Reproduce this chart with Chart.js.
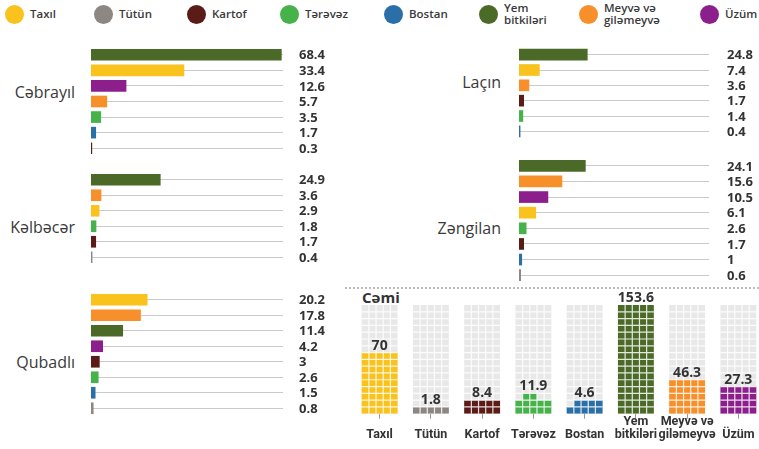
<!DOCTYPE html>
<html><head><meta charset="utf-8">
<script src="https://cdn.jsdelivr.net/npm/chart.js@4.4.1/dist/chart.umd.min.js"></script>
<style>
html,body{margin:0;padding:0;background:#fff;width:759px;height:449px;overflow:hidden;position:relative;font-family:'Open Sans',sans-serif;color:#333}
canvas{position:absolute}
.leg{position:absolute;top:4px;display:flex;align-items:center;height:20px;font-size:11.5px;font-weight:600;line-height:12px;color:#3a3a3a;white-space:nowrap}
.leg i{display:inline-block;width:19px;height:19px;border-radius:50%;margin-right:6px;flex:none}
.region{position:absolute;font-size:16px;text-align:right;width:120px;line-height:20px;color:#3a3a3a}
.sep{position:absolute;left:345px;top:287px;width:414px;border-top:2px dotted #bdbdbd}
.cemi{position:absolute;left:362px;top:287px;font-size:15px;font-weight:700;color:#333;line-height:20px}
</style></head><body>
<div class="sep"></div>
<div class="cemi">Cəmi</div>
<script>
// ---- data ----
const categories = ['Taxıl', 'Tütün', 'Kartof', 'Tərəvəz', 'Bostan', 'Yem bitkiləri', 'Meyvə və giləmeyvə', 'Üzüm'];
const tickLabels = ['Taxıl', 'Tütün', 'Kartof', 'Tərəvəz', 'Bostan', ['Yem', 'bitkiləri'], ['Meyvə və', 'giləmeyvə'], 'Üzüm'];
const totals = [70, 1.8, 8.4, 11.9, 4.6, 153.6, 46.3, 27.3];
const waffleCells = [45, 5, 10, 12, 9, 80, 25, 20]; // filled waffle cells counted in the picture

const cebrayilCats = ['Yem bitkiləri', 'Taxıl', 'Üzüm', 'Meyvə və giləmeyvə', 'Tərəvəz', 'Bostan', 'Kartof'];
const cebrayilVals = [68.4, 33.4, 12.6, 5.7, 3.5, 1.7, 0.3];
const kelbecerCats = ['Yem bitkiləri', 'Meyvə və giləmeyvə', 'Taxıl', 'Tərəvəz', 'Kartof', 'Tütün'];
const kelbecerVals = [24.9, 3.6, 2.9, 1.8, 1.7, 0.4];
const qubadliCats = ['Taxıl', 'Meyvə və giləmeyvə', 'Yem bitkiləri', 'Üzüm', 'Kartof', 'Tərəvəz', 'Bostan', 'Tütün'];
const qubadliVals = [20.2, 17.8, 11.4, 4.2, 3, 2.6, 1.5, 0.8];
const lacinCats = ['Yem bitkiləri', 'Taxıl', 'Meyvə və giləmeyvə', 'Kartof', 'Tərəvəz', 'Bostan'];
const lacinVals = [24.8, 7.4, 3.6, 1.7, 1.4, 0.4];
const zengilanCats = ['Yem bitkiləri', 'Meyvə və giləmeyvə', 'Üzüm', 'Taxıl', 'Tərəvəz', 'Kartof', 'Bostan', 'Tütün'];
const zengilanVals = [24.1, 15.6, 10.5, 6.1, 2.6, 1.7, 1, 0.6];

// ---- styles / layout ----
const categoryColors = ['#F9C21D', '#8C8782', '#5B1C17', '#45B34A', '#2B6FA8', '#4B6A28', '#F7902A', '#8D1F8C'];
const colorOf = c => categoryColors[categories.indexOf(c)];
const FONT = '"Open Sans", sans-serif';
const xMax = 69;
const waffleRows = 16, waffleCols = 5;

// legend (HTML)
const legendLeft = [5, 94, 187, 280, 384, 479, 579, 700];
categories.forEach((c, i) => {
  const d = document.createElement('div');
  d.className = 'leg';
  d.style.left = legendLeft[i] + 'px';
  const lbl = Array.isArray(tickLabels[i]) ? tickLabels[i].join('<br>') : tickLabels[i];
  d.innerHTML = '<i style="background:' + categoryColors[i] + '"></i><span>' + lbl + '</span>';
  document.body.appendChild(d);
});

function addRegionLabel(text, right, cy) {
  const d = document.createElement('div');
  d.className = 'region';
  d.textContent = text;
  d.style.left = (right - 120) + 'px';
  d.style.top = (cy - 10) + 'px';
  document.body.appendChild(d);
}

const valueLabelPlugin = {
  id: 'valueLabels',
  afterDatasetsDraw(chart, args, opts) {
    const {ctx, chartArea} = chart;
    const meta = chart.getDatasetMeta(0);
    const data = chart.data.datasets[0].data;
    ctx.save();
    ctx.font = 'bold 13px ' + FONT;
    ctx.fillStyle = '#333';
    ctx.textBaseline = 'middle';
    ctx.textAlign = 'left';
    meta.data.forEach((bar, i) => {
      ctx.fillText(String(data[i]), chartArea.right + opts.gap, bar.y + 1);
    });
    ctx.restore();
  }
};

function makeCanvas(left, top, w, h) {
  const cv = document.createElement('canvas');
  cv.width = w; cv.height = h;
  cv.style.left = left + 'px'; cv.style.top = top + 'px';
  cv.style.width = w + 'px'; cv.style.height = h + 'px';
  document.body.appendChild(cv);
  return cv;
}

function makePanel(cats, vals, left, top, w, h, gap) {
  const cv = makeCanvas(left, top, w, h);
  new Chart(cv, {
    type: 'bar',
    data: {labels: cats, datasets: [{data: vals, backgroundColor: cats.map(colorOf), barThickness: 11, borderWidth: 0}]},
    options: {
      indexAxis: 'y', responsive: false, animation: false, devicePixelRatio: 1,
      layout: {padding: {left: 0, right: 50, top: 0, bottom: 0}},
      plugins: {legend: {display: false}, tooltip: {enabled: false}, valueLabels: {gap: gap}},
      scales: {
        x: {display: false, min: 0, max: xMax},
        y: {display: true, ticks: {display: false}, border: {display: false},
            grid: {offset: false, color: '#cacaca', lineWidth: 1, drawTicks: false}}
      }
    },
    plugins: [valueLabelPlugin]
  });
}

makePanel(cebrayilCats, cebrayilVals, 91, 47, 242, 109, 16);
makePanel(kelbecerCats, kelbecerVals, 91, 172, 242, 93, 16);
makePanel(qubadliCats, qubadliVals, 91, 292, 242, 124, 16);
makePanel(lacinCats, lacinVals, 519, 47, 240, 92, 18);
makePanel(zengilanCats, zengilanVals, 519, 158, 240, 125, 18);

addRegionLabel('Cəbrayıl', 75, 92);
addRegionLabel('Kəlbəcər', 75, 227);
addRegionLabel('Qubadlı', 75, 362);
addRegionLabel('Laçın', 501, 82);
addRegionLabel('Zəngilan', 501, 228);

// ---- waffle (Cəmi) ----
const fullRows = waffleCells.map(c => Math.floor(c / waffleCols));
const gridRows = categories.map(() => waffleRows);

const wafflePlugin = {
  id: 'waffle',
  afterDatasetsDraw(chart) {
    const {ctx} = chart;
    const y = chart.scales.y;
    const meta = chart.getDatasetMeta(0);
    ctx.save();
    meta.data.forEach((bar, i) => {
      const left = bar.x - bar.width / 2;
      const cw = bar.width / waffleCols;
      const full = fullRows[i];
      const rem = waffleCells[i] - full * waffleCols;
      ctx.fillStyle = categoryColors[i];
      for (let c = 0; c < rem; c++) {
        const col = Math.min(c + 1, waffleCols - 1);
        const top = y.getPixelForValue(full + 1), bot = y.getPixelForValue(full);
        ctx.fillRect(left + col * cw, top, cw, bot - top);
      }
      // gaps
      ctx.strokeStyle = 'rgba(255,255,255,0.85)';
      ctx.lineWidth = 1.2;
      const yt = y.getPixelForValue(waffleRows), yb = y.getPixelForValue(0);
      ctx.beginPath();
      for (let c = 1; c < waffleCols; c++) {
        ctx.moveTo(left + c * cw, yt); ctx.lineTo(left + c * cw, yb);
      }
      for (let r = 1; r < waffleRows; r++) {
        const py = y.getPixelForValue(r);
        ctx.moveTo(left, py); ctx.lineTo(left + bar.width, py);
      }
      ctx.stroke();
      // value label
      const filled = full + (rem > 0 ? 1 : 0);
      ctx.fillStyle = '#333';
      ctx.font = 'bold 14px ' + FONT;
      ctx.textAlign = 'center';
      ctx.textBaseline = 'alphabetic';
      ctx.fillText(String(totals[i]), bar.x, y.getPixelForValue(filled) - 3);
    });
    ctx.restore();
  }
};

const wcv = makeCanvas(354, 285, 410, 166);
new Chart(wcv, {
  type: 'bar',
  data: {
    labels: tickLabels,
    datasets: [
      {data: fullRows, backgroundColor: categoryColors, barPercentage: 0.7, categoryPercentage: 1, grouped: false, borderWidth: 0},
      {data: gridRows, backgroundColor: '#e8e8e8', barPercentage: 0.7, categoryPercentage: 1, grouped: false, borderWidth: 0}
    ]
  },
  options: {
    responsive: false, animation: false, devicePixelRatio: 1,
    layout: {padding: {top: 20, left: 0, right: 0, bottom: 0}},
    plugins: {legend: {display: false}, tooltip: {enabled: false}},
    scales: {
      x: {
        ticks: {font: {family: 'Roboto, sans-serif', size: 12.5, weight: 'bold', lineHeight: 1.05}, color: '#333', padding: 3,
                crossAlign: 'far', maxRotation: 0, autoSkip: false},
        grid: {offset: false, drawOnChartArea: false, drawTicks: true, tickLength: 5, color: '#9a9a9a'},
        border: {display: false}
      },
      y: {display: false, min: 0, max: waffleRows}
    }
  },
  plugins: [wafflePlugin]
});
</script>
</body></html>
